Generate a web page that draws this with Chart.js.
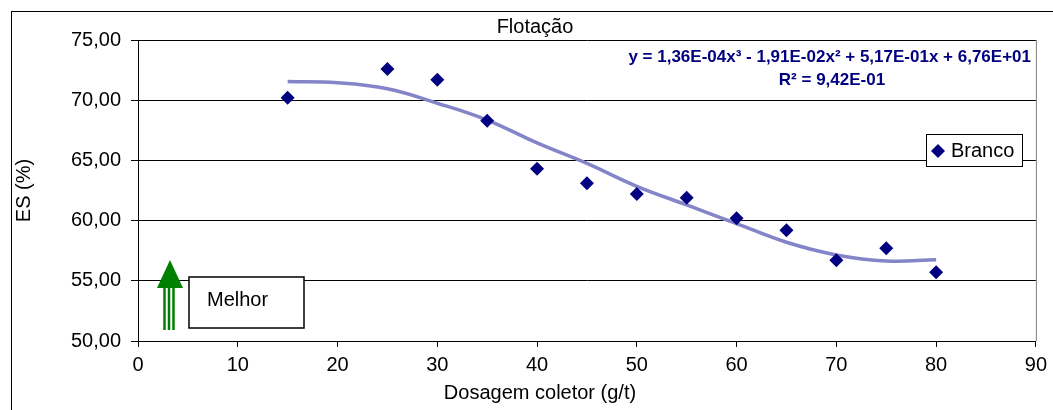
<!DOCTYPE html>
<html>
<head>
<meta charset="utf-8">
<script src="https://cdn.jsdelivr.net/npm/chart.js@4/dist/chart.umd.min.js"></script>
<style>
  body { margin: 0; background: #fff; }
  canvas { display: block; }
</style>
</head>
<body>
<canvas id="myChart" width="1053" height="410"></canvas>
<script>
// data
let dosagem = [15, 25, 30, 35, 40, 45, 50, 55, 60, 65, 70, 75, 80]
let es_branco = [70.2, 72.6, 71.7, 68.3, 64.3, 63.1, 62.2, 61.9, 60.2, 59.2, 56.7, 57.7, 55.7]
// trendline as drawn (polynomial, order 3)
let trend_x = [15, 20, 25, 30, 35, 40, 45, 50, 55, 60, 65, 70, 75, 80]
let trend_y = [71.55, 71.45, 70.95, 69.75, 68.35, 66.45, 64.75, 62.85, 61.3, 59.75, 58.2, 57.15, 56.65, 56.75]
let x_ticks = [0, 10, 20, 30, 40, 50, 60, 70, 80, 90]
let y_ticks = [50, 55, 60, 65, 70, 75]

let titulo = 'Flotação'
let eixo_x = 'Dosagem coletor (g/t)'
let eixo_y = 'ES (%)'
let serie = 'Branco'
let equacao = 'y = 1,36E-04x³ - 1,91E-02x² + 5,17E-01x + 6,76E+01'
let r2 = 'R² = 9,42E-01'
let melhor = 'Melhor'

const FONT = 'Arial, "Liberation Sans", sans-serif'
const NAVY = '#000080'

let pts = dosagem.map((x, i) => ({x: x, y: es_branco[i]}))
let trend = trend_x.map((x, i) => ({x: x, y: trend_y[i]}))

const extras = {
    id: 'extras',
    afterDraw(chart) {
        const ctx = chart.ctx
        const a = chart.chartArea
        ctx.save()
        // outer frame
        ctx.strokeStyle = '#000'
        ctx.lineWidth = 1
        ctx.strokeRect(11.5, 11.5, 1100, 500)
        // plot area right border
        ctx.strokeStyle = '#808080'
        ctx.beginPath()
        ctx.moveTo(a.right + 0.5, a.top)
        ctx.lineTo(a.right + 0.5, a.bottom)
        ctx.stroke()

        // title
        ctx.fillStyle = '#000'
        ctx.font = '20px ' + FONT
        ctx.textAlign = 'center'
        ctx.textBaseline = 'middle'
        ctx.fillText(titulo, 535, 27)
        // x title
        ctx.fillText(eixo_x, 540, 393)

        // equation
        ctx.fillStyle = NAVY
        ctx.font = 'bold 17px ' + FONT
        ctx.textAlign = 'right'
        ctx.fillText(equacao, 1031, 57)
        ctx.textAlign = 'center'
        ctx.fillText(r2, 832, 80)

        // legend
        ctx.fillStyle = '#fff'
        ctx.fillRect(926, 134, 96, 32)
        ctx.strokeStyle = '#000'
        ctx.strokeRect(926.5, 134.5, 96, 32)
        ctx.fillStyle = NAVY
        ctx.beginPath()
        ctx.moveTo(938, 144); ctx.lineTo(945, 151); ctx.lineTo(938, 158); ctx.lineTo(931, 151)
        ctx.closePath()
        ctx.fill()
        ctx.fillStyle = '#000'
        ctx.font = '20px ' + FONT
        ctx.textAlign = 'left'
        ctx.fillText(serie, 951, 151)

        // "Melhor" box
        ctx.fillStyle = '#fff'
        ctx.fillRect(189, 277, 115, 51)
        ctx.lineWidth = 1.5
        ctx.strokeRect(189, 277, 115, 51)
        ctx.fillStyle = '#000'
        ctx.fillText(melhor, 207, 300)

        // green arrow
        ctx.fillStyle = '#008000'
        ctx.beginPath()
        ctx.moveTo(170, 260); ctx.lineTo(183, 288); ctx.lineTo(157, 288)
        ctx.closePath()
        ctx.fill()
        ctx.strokeStyle = '#008000'
        ctx.lineWidth = 2.5
        for (let sx of [164.5, 169, 173.5]) {
            ctx.beginPath()
            ctx.moveTo(sx, 287)
            ctx.lineTo(sx, 330)
            ctx.stroke()
        }
        ctx.restore()
    }
}

let data = {
    datasets: [{
        label: 'Poly. (' + serie + ')',
        data: trend,
        showLine: true,
        borderColor: '#8484c8',
        borderWidth: 3.5,
        pointRadius: 0,
        tension: 0.4,
        order: 2
    }, {
        label: serie,
        data: pts,
        pointStyle: 'rectRot',
        pointRadius: 7,
        pointBackgroundColor: NAVY,
        pointBorderColor: NAVY,
        pointBorderWidth: 0,
        showLine: false,
        order: 1
    }]
}

let config = {
    type: 'scatter',
    data: data,
    plugins: [extras],
    options: {
        responsive: false,
        animation: false,
        layout: {padding: {left: 12, right: 14, top: 40, bottom: 8}},
        plugins: {
            legend: {display: false},
            tooltip: {enabled: false}
        },
        scales: {
            x: {
                type: 'linear',
                min: 0,
                max: 90,
                afterBuildTicks: s => { s.ticks = x_ticks.map(v => ({value: v})) },
                afterFit: s => { s.height = 61 },
                ticks: {color: '#000', font: {size: 20, family: FONT}, padding: 6, maxRotation: 0},
                grid: {drawOnChartArea: false, color: '#000', tickLength: 6},
                border: {color: '#000'}
            },
            y: {
                min: 50,
                max: 75,
                afterBuildTicks: s => { s.ticks = y_ticks.map(v => ({value: v})) },
                afterFit: s => { s.width = 126 },
                ticks: {
                    color: '#000',
                    font: {size: 20, family: FONT},
                    padding: 10,
                    callback: v => v.toFixed(2).replace('.', ',')
                },
                grid: {color: '#000', tickLength: 7},
                border: {color: '#000'},
                title: {display: true, text: eixo_y, color: '#000', font: {size: 20, family: FONT}, padding: 0}
            }
        }
    }
}

let myChart = new Chart(document.getElementById('myChart'), config)
</script>
</body>
</html>
